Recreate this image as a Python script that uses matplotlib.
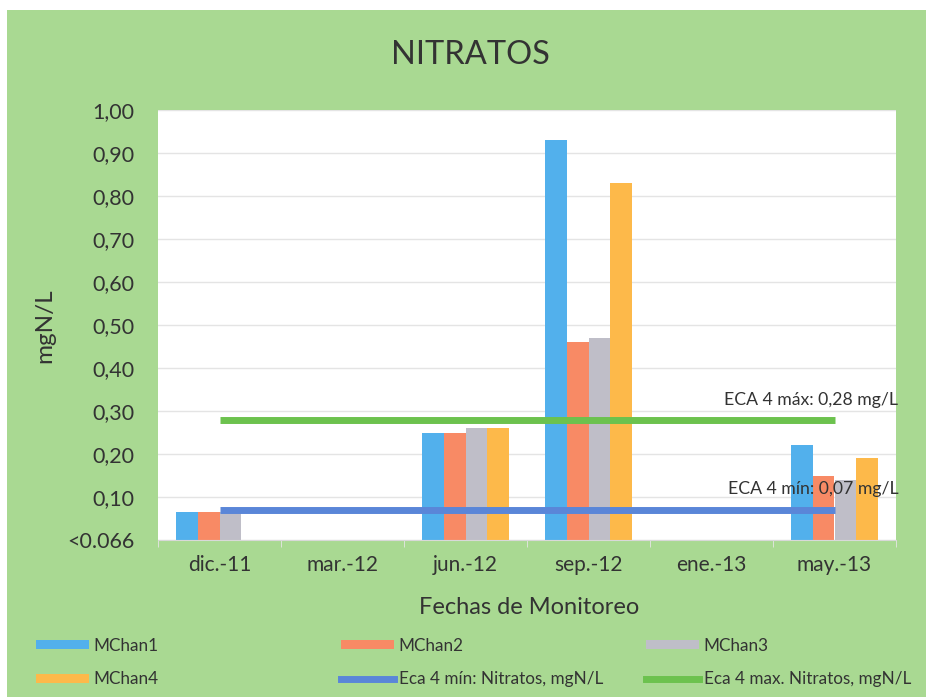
import matplotlib
matplotlib.use("Agg")
import matplotlib.pyplot as plt
from matplotlib.patches import Rectangle, Patch
from matplotlib.lines import Line2D
import numpy as np

# Data
fechas = ['dic.-11', 'mar.-12', 'jun.-12', 'sep.-12', 'ene.-13', 'may.-13']
mchan1 = [0.066, np.nan, 0.25, 0.93, np.nan, 0.22]
mchan2 = [0.066, np.nan, 0.25, 0.46, np.nan, 0.15]
mchan3 = [0.066, np.nan, 0.26, 0.47, np.nan, 0.14]
mchan4 = [np.nan, np.nan, 0.26, 0.83, np.nan, 0.19]
eca_min = [0.07] * len(fechas)
eca_max = [0.28] * len(fechas)
y_ticks = [0.0, 0.1, 0.2, 0.3, 0.4, 0.5, 0.6, 0.7, 0.8, 0.9, 1.0]
y_tick_labels = ['<0.066', '0,10', '0,20', '0,30', '0,40', '0,50',
                 '0,60', '0,70', '0,80', '0,90', '1,00']

plt.rcParams['font.family'] = ['Lato', 'DejaVu Sans']
txt = '#333333'
bg = '#a9d992'
colors = ['#52b0ec', '#f88a65', '#bfbec8', '#fdb94a']
line_min_color = '#5a86d8'
line_max_color = '#6cc24e'

fig = plt.figure(figsize=(9.26, 6.97), dpi=100, facecolor='white')
# green chart area (scan has a small white margin top-left)
fig.patches.append(Rectangle((7 / 926, 0), 1, 1 - 10 / 697, transform=fig.transFigure,
                             facecolor=bg, edgecolor='none', zorder=-10))

ax = fig.add_axes([158 / 926, 1 - 540 / 697, (896 - 158) / 926, (540 - 110) / 697])
ax.set_facecolor('white')

x = np.arange(len(fechas))
w = 0.175
series = [mchan1, mchan2, mchan3, mchan4]
names = ['MChan1', 'MChan2', 'MChan3', 'MChan4']
for i, (vals, c) in enumerate(zip(series, colors)):
    ax.bar(x + (i - 1.5) * w, vals, width=w, color=c, zorder=2)

ax.plot(x, eca_min, color=line_min_color, lw=5, solid_capstyle='butt', zorder=3)
ax.plot(x, eca_max, color=line_max_color, lw=5, solid_capstyle='butt', zorder=3)

ax.text(5.52, 0.326, 'ECA 4 máx: 0,28 mg/L', ha='right', va='center', fontsize=12.7, color=txt, zorder=4)
ax.text(5.52, 0.119, 'ECA 4 mín: 0,07 mg/L', ha='right', va='center', fontsize=12.7, color=txt, zorder=4)

ax.set_xlim(-0.5, len(fechas) - 0.5)
ax.set_ylim(0, 1.0)
ax.set_yticks(y_ticks)
ax.set_yticklabels(y_tick_labels)
ax.set_xticks(x)
ax.set_xticklabels(fechas)
ax.set_xticks(np.arange(len(fechas) + 1) - 0.5, minor=True)
ax.tick_params(axis='y', length=0, labelsize=15.5, colors=txt, pad=17)
ax.tick_params(axis='x', which='major', length=0, labelsize=15, colors=txt, pad=11)
ax.tick_params(axis='x', which='minor', length=5, color='#e6e6e6', direction='out')
ax.grid(axis='y', color='#e4e4e4', lw=1, zorder=0)
for s in ['top', 'right', 'left']:
    ax.spines[s].set_visible(False)
ax.spines['bottom'].set_color('#d9d9d9')

fig.text(470 / 926, 1 - 55 / 697, 'NITRATOS', ha='center', va='center', fontsize=23.5, color=txt)
fig.text(529 / 926, 1 - 607 / 697, 'Fechas de Monitoreo', ha='center', va='center', fontsize=17, color=txt)
fig.text(45 / 926, 1 - 326 / 697, 'mgN/L', ha='center', va='center', rotation=90, fontsize=17.5, color=txt)

# legend, three columns placed like the original
h1 = Patch(facecolor=colors[0])
h2 = Patch(facecolor=colors[1])
h3 = Patch(facecolor=colors[2])
h4 = Patch(facecolor=colors[3])
hmin = Line2D([], [], color=line_min_color, lw=5)
hmax = Line2D([], [], color=line_max_color, lw=5)
columns = [
    ([h1, h4], [names[0], names[3]], 27),
    ([h2, hmin], [names[1], 'Eca 4 mín: Nitratos, mgN/L'], 332),
    ([h3, hmax], [names[2], 'Eca 4 max. Nitratos, mgN/L'], 637),
]
for hs, labs, px in columns:
    fig.legend(hs, labs, loc='upper left', bbox_to_anchor=(px / 926, 1 - 629 / 697),
               frameon=False, fontsize=12.3, handlelength=3.1, handleheight=0.4,
               handletextpad=0.3, labelspacing=1.05, borderpad=0, labelcolor=txt)

fig.savefig('out.png', dpi=100, facecolor=fig.get_facecolor())
